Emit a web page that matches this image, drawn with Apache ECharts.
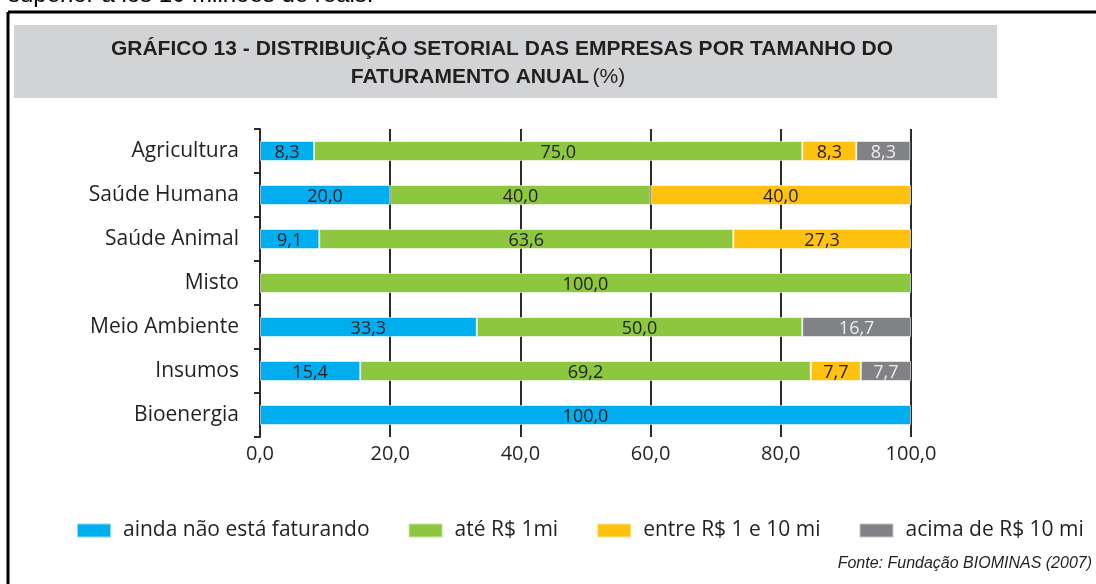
<!DOCTYPE html>
<html>
<head>
<meta charset="utf-8">
<script src="https://cdn.jsdelivr.net/npm/echarts@6/dist/echarts.min.js"></script>
<style>
  html, body { margin: 0; padding: 0; background: #fff; }
  #chart { width: 1096px; height: 584px; }
</style>
</head>
<body>
<div id="chart"></div>
<script>
// dados (%)
var categorias = ['Agricultura', 'Saúde Humana', 'Saúde Animal', 'Misto', 'Meio Ambiente', 'Insumos', 'Bioenergia'];
var nomesSeries = ['ainda não está faturando', 'até R$ 1mi', 'entre R$ 1 e 10 mi', 'acima de R$ 10 mi'];
var aindaNao  = [8.3, 20.0, 9.1, 0, 33.3, 15.4, 100.0];
var ate1mi    = [75.0, 40.0, 63.6, 100.0, 50.0, 69.2, 0];
var entre1e10 = [8.3, 40.0, 27.3, 0, 0, 7.7, 0];
var acima10   = [8.3, 0, 0, 0, 16.7, 7.7, 0];
var eixoX     = [0, 20, 40, 60, 80, 100];

var cores = ['#00aeef', '#8dc63f', '#ffc20e', '#808285'];
var corLabel = ['#231f20', '#231f20', '#231f20', '#ececec'];
var fonte = "'Open Sans', sans-serif";

function virgula(v) {
  return v.toFixed(1).replace('.', ',');
}

var valores = [aindaNao, ate1mi, entre1e10, acima10];
var series = valores.map(function (arr, i) {
  return {
    name: nomesSeries[i],
    type: 'bar',
    stack: 'total',
    barWidth: 20,
    data: arr.map(function (v) { return v === 0 ? '-' : v; }),
    itemStyle: { color: cores[i], borderColor: 'rgba(255,255,255,0.55)', borderWidth: 1 },
    label: {
      show: true,
      position: 'inside',
      color: corLabel[i],
      fontFamily: fonte,
      fontSize: 18,
      offset: [0, 2],
      formatter: function (p) { return virgula(p.value); }
    },
    emphasis: { disabled: true }
  };
});

var myChart = echarts.init(document.getElementById('chart'));
myChart.setOption({
  backgroundColor: '#fff',
  animation: false,
  textStyle: { fontFamily: fonte },
  grid: { left: 260, right: 185, top: 129, bottom: 147 },
  legend: {
    data: nomesSeries,
    left: 71,
    top: 515,
    icon: 'rect',
    itemWidth: 34,
    itemHeight: 14,
    itemGap: 38,
    textStyle: { fontFamily: fonte, fontSize: 21, color: '#231f20', padding: [0, 0, 0, 7] }
  },
  xAxis: {
    type: 'value',
    min: eixoX[0],
    max: eixoX[eixoX.length - 1],
    interval: eixoX[1] - eixoX[0],
    axisLine: { show: false },
    axisTick: { show: false },
    splitLine: { show: true, showMinLine: false, lineStyle: { color: '#2b2b2b', width: 2 } },
    axisLabel: { color: '#231f20', fontSize: 20, margin: 7, formatter: virgula }
  },
  yAxis: {
    type: 'category',
    data: categorias,
    inverse: true,
    offset: 4,
    axisLine: { show: true, lineStyle: { color: '#2b2b2b', width: 2 } },
    axisTick: { show: true, length: 6, lineStyle: { color: '#2b2b2b', width: 2 } },
    axisLabel: { color: '#231f20', fontSize: 21, margin: 17 }
  },
  series: series,
  graphic: [
    // texto cortado no topo
    { type: 'text', left: 8, top: -17, silent: true,
      style: { text: 'superior a los 10 milhões de reais.', font: "24px 'Liberation Sans', Arial, sans-serif", fill: '#000' } },
    // moldura
    { type: 'line', silent: true, shape: { x1: 8, y1: 12, x2: 1100, y2: 12 }, style: { stroke: '#000', lineWidth: 3 } },
    { type: 'line', silent: true, shape: { x1: 8, y1: 12, x2: 8, y2: 590 }, style: { stroke: '#000', lineWidth: 3 } },
    // faixa do titulo
    { type: 'rect', silent: true, shape: { x: 14, y: 25, width: 983, height: 73 }, style: { fill: '#d1d3d4' } },
    { type: 'text', silent: true, x: 502, y: 49,
      style: { text: 'GRÁFICO 13 - DISTRIBUIÇÃO SETORIAL DAS EMPRESAS POR TAMANHO DO',
        font: "bold 21px 'Liberation Sans Narrow', sans-serif", fill: '#231f20', align: 'center', verticalAlign: 'middle' } },
    { type: 'text', silent: true, x: 488, y: 77,
      style: { text: '{b|FATURAMENTO ANUAL} {n|(%)}', align: 'center', verticalAlign: 'middle',
        rich: {
          b: { font: "bold 21px 'Liberation Sans Narrow', sans-serif", fill: '#231f20' },
          n: { font: "21px 'Liberation Sans Narrow', sans-serif", fill: '#231f20' }
        } } },
    // fonte
    { type: 'text', silent: true, x: 1092, y: 564,
      style: { text: 'Fonte: Fundação BIOMINAS (2007)', font: "italic 16px 'Liberation Sans Narrow', sans-serif",
        fill: '#231f20', align: 'right', verticalAlign: 'middle' } }
  ]
});
</script>
</body>
</html>
